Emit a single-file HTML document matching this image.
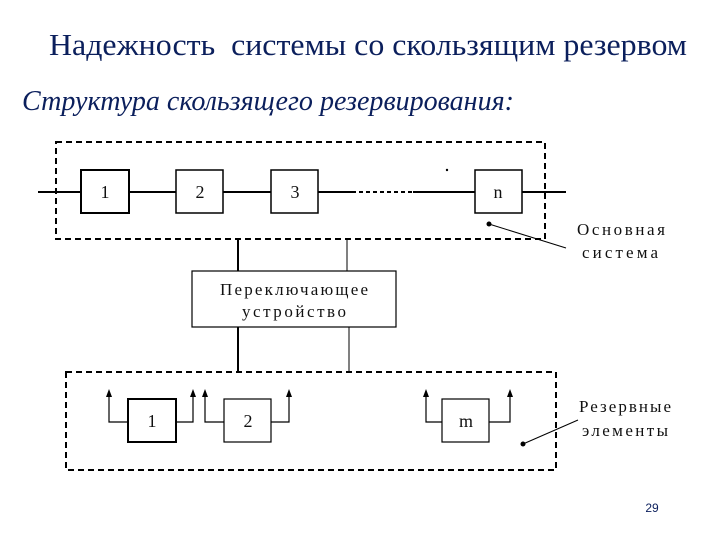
<!DOCTYPE html>
<html><head><meta charset="utf-8"><style>
html,body{margin:0;padding:0;background:#fff;width:720px;height:540px;overflow:hidden}
svg{display:block}
</style></head><body>
<svg width="720" height="540" viewBox="0 0 720 540" xmlns="http://www.w3.org/2000/svg">
<text x="368" y="55" text-anchor="middle" font-family="Liberation Serif, serif" font-size="31" fill="#0b1f5c" xml:space="preserve" textLength="638" lengthAdjust="spacingAndGlyphs">Надежность  системы со скользящим резервом</text>
<text x="22" y="110" font-family="Liberation Serif, serif" font-style="italic" font-size="28" fill="#0b1f5c" textLength="492" lengthAdjust="spacingAndGlyphs">Структура скользящего резервирования:</text>

<g stroke="#000" fill="none">
<rect x="56" y="142" width="489" height="97" stroke-width="2" stroke-dasharray="6,4"/>
<line x1="38" y1="192" x2="352" y2="192" stroke-width="2"/>
<line x1="352" y1="192" x2="413" y2="192" stroke-width="2" stroke-dasharray="4,3"/>
<line x1="413" y1="192" x2="566" y2="192" stroke-width="2"/>
<rect x="81" y="170" width="48" height="43" fill="#fff" stroke-width="2"/>
<rect x="176" y="170" width="47" height="43" fill="#fff" stroke-width="1.5"/>
<rect x="271" y="170" width="47" height="43" fill="#fff" stroke-width="1.5"/>
<rect x="475" y="170" width="47" height="43" fill="#fff" stroke-width="1.5"/>
<line x1="489" y1="224" x2="566" y2="248" stroke-width="1"/>
<line x1="238" y1="239" x2="238" y2="271" stroke-width="2"/>
<line x1="347" y1="239" x2="347" y2="271" stroke-width="1"/>
<rect x="192" y="271" width="204" height="56" stroke-width="1.2"/>
<line x1="238" y1="327" x2="238" y2="372" stroke-width="2"/>
<line x1="349" y1="327" x2="349" y2="372" stroke-width="1"/>
<rect x="66" y="372" width="490" height="98" stroke-width="2" stroke-dasharray="6,4"/>
<rect x="128" y="399" width="48" height="43" stroke-width="2"/>
<rect x="224" y="399" width="47" height="43" stroke-width="1.2"/>
<rect x="442" y="399" width="47" height="43" stroke-width="1.2"/>
<polyline points="128,422 109,422 109,394" stroke-width="1.2"/>
<polyline points="176,422 193,422 193,394" stroke-width="1.2"/>
<polyline points="224,422 205,422 205,394" stroke-width="1.2"/>
<polyline points="271,422 289,422 289,394" stroke-width="1.2"/>
<polyline points="442,422 426,422 426,394" stroke-width="1.2"/>
<polyline points="489,422 510,422 510,394" stroke-width="1.2"/>
<line x1="523" y1="444" x2="578" y2="420" stroke-width="1"/>
</g>
<g fill="#000">
<polygon points="109,389 106,397 112,397"/>
<polygon points="193,389 190,397 196,397"/>
<polygon points="205,389 202,397 208,397"/>
<polygon points="289,389 286,397 292,397"/>
<polygon points="426,389 423,397 429,397"/>
<polygon points="510,389 507,397 513,397"/>
<circle cx="489" cy="224" r="2.5"/>
<circle cx="523" cy="444" r="2.5"/>
<circle cx="447" cy="170" r="1.2"/>
</g>
<g font-family="Liberation Serif, serif" font-size="18" fill="#111" text-anchor="middle">
<text x="105" y="198">1</text>
<text x="200" y="198">2</text>
<text x="295" y="198">3</text>
<text x="498" y="198">n</text>
<text x="152" y="427">1</text>
<text x="248" y="427">2</text>
<text x="466" y="427">m</text>
<text x="294" y="295" font-size="17" textLength="148" lengthAdjust="spacing">Переключающее</text>
<text x="294" y="317" font-size="17" textLength="104" lengthAdjust="spacing">устройство</text>
<text x="621" y="235" font-size="17" textLength="88" lengthAdjust="spacing">Основная</text>
<text x="620" y="258" font-size="17" textLength="76" lengthAdjust="spacing">система</text>
<text x="625" y="412" font-size="17" textLength="92" lengthAdjust="spacing">Резервные</text>
<text x="625" y="436" font-size="17" textLength="86" lengthAdjust="spacing">элементы</text>
</g>
<text x="652" y="512" text-anchor="middle" font-family="Liberation Sans, sans-serif" font-size="12" fill="#0b1f5c">29</text>
</svg>
</body></html>
